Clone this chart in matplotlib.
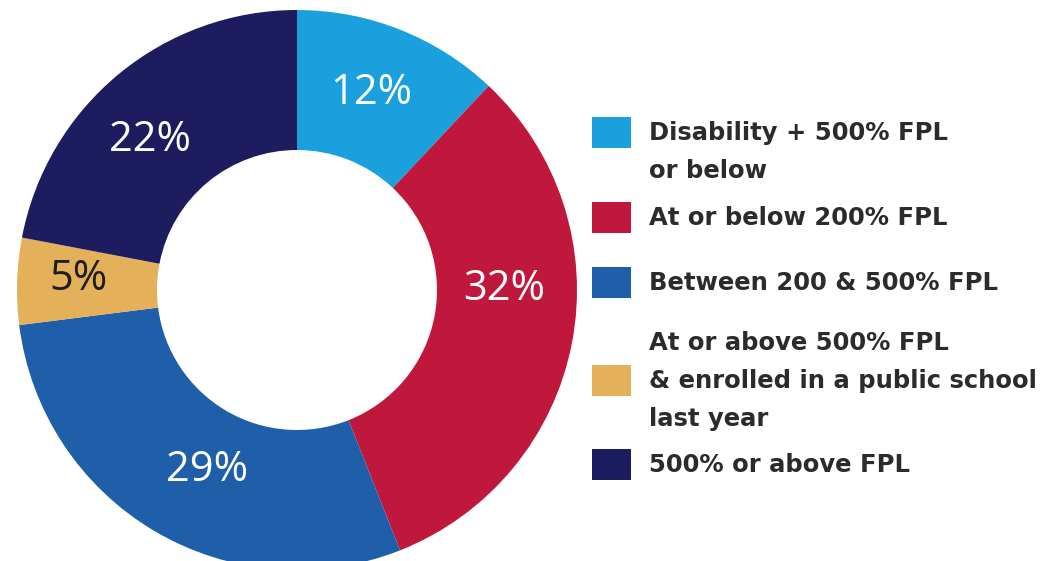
import matplotlib.pyplot as plt
from matplotlib.patches import Rectangle
import numpy as np

categories = ["Disability + 500% FPL\nor below",
              "At or below 200% FPL",
              "Between 200 & 500% FPL",
              "At or above 500% FPL\n& enrolled in a public school\nlast year",
              "500% or above FPL"]
shares = [12, 32, 29, 5, 22]
colors = ["#1aa0dc", "#c0183c", "#1f5ea8", "#e4b05a", "#1d1c5f"]
label_colors = ["white", "white", "white", "#1e1e1e", "white"]

plt.rcParams['font.family'] = ['Open Sans', 'DejaVu Sans']

fig = plt.figure(figsize=(10.56, 5.61), dpi=100)
W, H = 1056, 561

# donut axes: centre (297, 290) px, radius 280 px
cx, cy, r = 297, 290, 280
ax = fig.add_axes([(cx - r) / W, (H - cy - r) / H, 2 * r / W, 2 * r / H])
wedges, _ = ax.pie(shares, colors=colors, startangle=90, counterclock=False,
                   radius=1, wedgeprops=dict(width=0.5, linewidth=0))
ax.set_xlim(-1, 1)
ax.set_ylim(-1, 1)
ax.set_aspect("equal")
ax.axis("off")

# percentage labels inside the ring (small nudges like the original)
nudge = [1, 11, 4, -1, 5]
lab_r = [0.75, 0.74, 0.72, 0.78, 0.75]
for w, v, c, dn, rr in zip(wedges, shares, label_colors, nudge, lab_r):
    ang = np.deg2rad((w.theta1 + w.theta2) / 2 + dn)
    ax.text(rr * np.cos(ang), rr * np.sin(ang), f"{v}%", color=c,
            fontsize=30, ha="center", va="center")

# legend drawn by hand to follow the irregular line spacing
line_h = 38
row_tops = [133, 218, 283, 343, 465]
for lab, col, top in zip(categories, colors, row_tops):
    lines = lab.split("\n")
    mid = top + (len(lines) - 1) * line_h / 2 if len(lines) == 3 else top
    fig.add_artist(Rectangle((592 / W, (H - mid - 15) / H), 39 / W, 31 / H,
                             transform=fig.transFigure, color=col, lw=0))
    for i, ln in enumerate(lines):
        fig.text(649 / W, (H - top - i * line_h) / H, ln, fontsize=17.5,
                 family="DejaVu Sans", fontweight="bold", color="#2b2b2b",
                 va="center", ha="left")

fig.savefig("out.png", dpi=100, facecolor="white")
